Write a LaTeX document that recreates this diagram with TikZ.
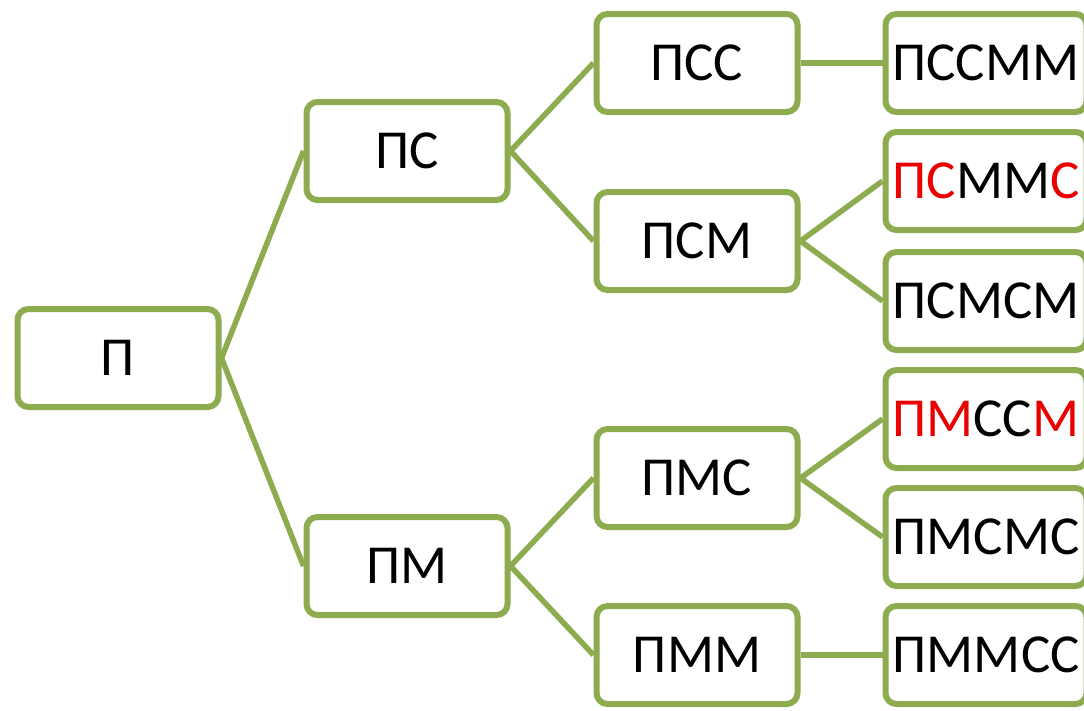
\documentclass[tikz,border=0pt]{standalone}
\usepackage{fontspec}
\setmainfont{Carlito}
\definecolor{boxgreen}{RGB}{141,172,79}
\definecolor{hred}{RGB}{235,0,0}
\begin{document}
\begin{tikzpicture}[x=1pt,y=-1pt,
  tbox/.style={draw=boxgreen, line width=6pt, fill=white, rounded corners=11pt,
    minimum width=201pt, minimum height=98pt, inner sep=0pt,
    font=\fontsize{55}{60}\selectfont, text height=35pt, text depth=0pt},
  conn/.style={draw=boxgreen, line width=5.5pt}]
\useasboundingbox (0,0) rectangle (1084,710);
\clip (0,0) rectangle (1084,710);
\fill[white] (0,0) rectangle (1084,710);
% nodes
\node[tbox] (p) at (118,358) {П};
\node[tbox] (ps) at (407,151) {ПС};
\node[tbox] (pm) at (407,566) {ПМ};
\node[tbox] (pss) at (697,63) {ПСС};
\node[tbox] (psm) at (697,241) {ПСМ};
\node[tbox] (pms) at (697,478) {ПМС};
\node[tbox] (pmm) at (697,655) {ПММ};
\node[tbox] (pssmm) at (986,63) {ПССММ};
\node[tbox] (psmmc) at (986,181) {\textcolor{hred}{ПС}ММ\textcolor{hred}{С}};
\node[tbox] (psmsm) at (986,301) {ПСМСМ};
\node[tbox] (pmssm) at (986,419) {\textcolor{hred}{ПМ}СС\textcolor{hred}{М}};
\node[tbox] (pmsms) at (986,537) {ПМСМС};
\node[tbox] (pmmss) at (986,655) {ПММСС};
% connectors
\draw[conn] (p.east) -- (ps.west);
\draw[conn] (p.east) -- (pm.west);
\draw[conn] (ps.east) -- (pss.west);
\draw[conn] (ps.east) -- (psm.west);
\draw[conn] (pm.east) -- (pms.west);
\draw[conn] (pm.east) -- (pmm.west);
\draw[conn] (pss.east) -- (pssmm.west);
\draw[conn] (psm.east) -- (psmmc.west);
\draw[conn] (psm.east) -- (psmsm.west);
\draw[conn] (pms.east) -- (pmssm.west);
\draw[conn] (pms.east) -- (pmsms.west);
\draw[conn] (pmm.east) -- (pmmss.west);
\end{tikzpicture}
\end{document}
